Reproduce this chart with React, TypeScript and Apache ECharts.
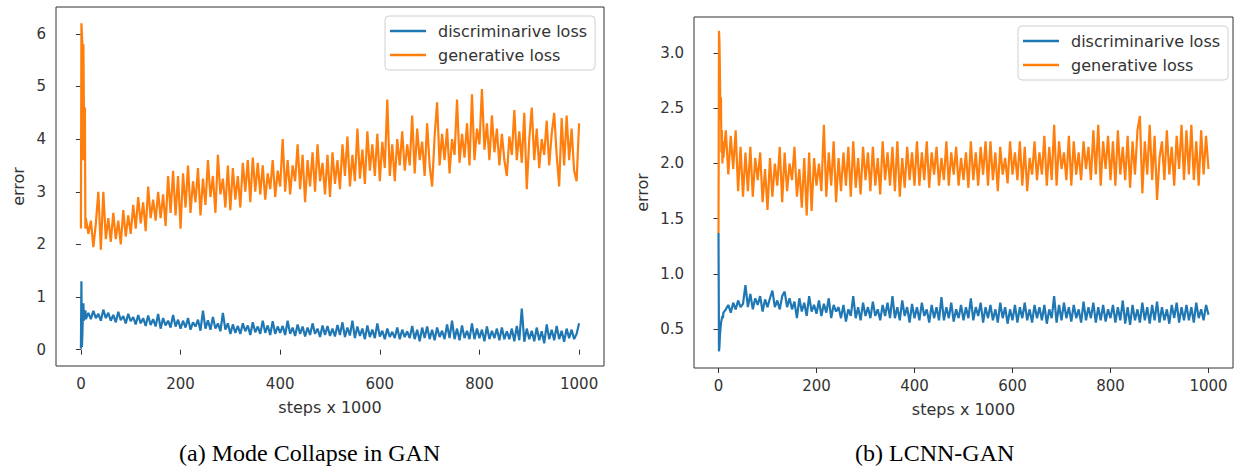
import React, { useEffect, useRef } from "react";
import * as echarts from "echarts";

// x sampling (steps x 1000): dense at the very start, then every 5
const earlySteps = [0, 1, 2, 3, 4, 5, 6, 7, 8, 9, 10];
const laterSteps = Array.from({ length: 198 }, (_, i) => 15 + 5 * i);
const steps = [...earlySteps, ...laterSteps];

const xTicks = [0, 200, 400, 600, 800, 1000];
const yTicksA = [0, 1, 2, 3, 4, 5, 6];
const yTicksB = [0.5, 1.0, 1.5, 2.0, 2.5, 3.0];

const seriesNames = ["discriminarive loss", "generative loss"];
const captions = ["(a) Mode Collapse in GAN", "(b) LCNN-GAN"];

// ---------- (a) Mode Collapse in GAN ----------
const genA = [
  2.3, 6.2, 6.0, 5.8, 3.6, 5.8, 4.6, 3.6, 4.6, 2.3, 2.5,
  2.2, 2.45, 1.95, 2.4, 3.0, 1.9, 3.0, 2.1,
  2.5, 2.05, 2.6, 2.1, 2.45, 2.0, 2.65, 2.15, 2.55, 2.2,
  2.75, 2.3, 2.9, 2.4, 2.8, 2.25, 3.1, 2.5, 2.85, 2.45,
  3.0, 2.5, 2.95, 2.35, 3.3, 2.6, 3.4, 2.55, 3.3, 2.3,
  3.35, 2.7, 3.5, 2.6, 3.2, 2.8, 3.45, 2.55, 3.25, 2.75,
  3.6, 2.9, 3.3, 2.6, 3.7, 2.95, 3.25, 2.7, 3.5, 2.65,
  3.45, 2.85, 3.3, 2.7, 3.55, 3.0, 3.6, 2.8, 3.65, 3.0,
  3.55, 2.95, 3.5, 2.85, 3.35, 3.05, 3.6, 2.9, 3.4, 3.1,
  4.0, 3.0, 3.6, 2.95, 3.5, 3.2, 3.9, 3.05, 3.7, 2.8,
  3.6, 3.1, 3.75, 3.0, 3.9, 3.2, 3.55, 2.95, 3.7, 2.9,
  3.75, 3.15, 3.6, 3.05, 3.9, 3.3, 4.05, 3.1, 3.7, 3.2,
  4.2, 3.25, 3.8, 3.15, 4.15, 3.4, 3.9, 3.3, 4.1, 3.2,
  3.95, 3.45, 4.75, 3.3, 3.9, 3.2, 4.0, 3.5, 4.15, 3.4,
  3.9, 3.5, 4.45, 3.35, 4.2, 3.6, 3.95, 3.3, 4.3, 3.5,
  3.1, 4.05, 4.7, 3.5, 4.1, 3.6, 4.2, 3.35, 4.0, 3.7,
  4.75, 3.55, 4.1, 3.65, 4.3, 3.5, 4.85, 3.6, 4.2, 3.9,
  4.95, 3.8, 4.3, 3.6, 4.45, 3.75, 4.2, 3.5, 4.1, 3.6,
  3.3, 4.05, 3.7, 4.55, 3.6, 4.15, 3.55, 4.5, 3.05, 4.0,
  4.6, 3.6, 4.2, 3.45, 4.0, 3.7, 4.35, 3.5, 4.1, 4.5,
  3.7, 3.1, 4.4, 3.5, 4.45, 3.6, 4.2, 3.4, 3.2, 4.3,
];

const discA = [
  0.02, 1.3, 0.05, 0.3, 0.7, 0.88, 0.55, 0.7, 0.6, 0.75, 0.58,
  0.7, 0.58, 0.74, 0.6, 0.68, 0.55, 0.76, 0.6,
  0.7, 0.55, 0.66, 0.52, 0.72, 0.56, 0.64, 0.5, 0.68, 0.54,
  0.62, 0.48, 0.66, 0.5, 0.6, 0.45, 0.65, 0.47, 0.58, 0.44,
  0.68, 0.4, 0.6, 0.46, 0.55, 0.42, 0.66, 0.44, 0.57, 0.4,
  0.55, 0.42, 0.6, 0.38, 0.52, 0.44, 0.57, 0.36, 0.74, 0.4,
  0.56, 0.38, 0.62, 0.4, 0.5, 0.35, 0.7, 0.38, 0.5, 0.3,
  0.48, 0.32, 0.45, 0.3, 0.5, 0.35, 0.46, 0.28, 0.52, 0.33,
  0.44, 0.3, 0.55, 0.32, 0.46, 0.28, 0.54, 0.3, 0.44, 0.32,
  0.45, 0.28, 0.55, 0.3, 0.42, 0.26, 0.48, 0.3, 0.44, 0.25,
  0.42, 0.28, 0.5, 0.3, 0.4, 0.24, 0.46, 0.28, 0.45, 0.26,
  0.4, 0.25, 0.47, 0.28, 0.52, 0.24, 0.42, 0.27, 0.55, 0.22,
  0.44, 0.26, 0.4, 0.2, 0.46, 0.24, 0.38, 0.22, 0.5, 0.25,
  0.36, 0.2, 0.4, 0.24, 0.34, 0.22, 0.42, 0.2, 0.38, 0.24,
  0.35, 0.22, 0.45, 0.2, 0.38, 0.16, 0.42, 0.22, 0.44, 0.2,
  0.38, 0.18, 0.42, 0.24, 0.36, 0.2, 0.48, 0.22, 0.55, 0.2,
  0.4, 0.18, 0.46, 0.22, 0.36, 0.2, 0.5, 0.2, 0.4, 0.22,
  0.38, 0.16, 0.44, 0.2, 0.36, 0.22, 0.4, 0.18, 0.42, 0.2,
  0.35, 0.2, 0.4, 0.16, 0.45, 0.18, 0.78, 0.15, 0.4, 0.2,
  0.36, 0.16, 0.42, 0.18, 0.35, 0.12, 0.48, 0.2, 0.38, 0.18,
  0.45, 0.2, 0.36, 0.15, 0.4, 0.22, 0.38, 0.2, 0.3, 0.5,
];

// ---------- (b) LCNN-GAN ----------
const genB = [
  1.37, 3.2, 3.1, 2.8, 2.4, 2.6, 2.1, 2.3, 2.0, 2.2, 2.05,
  2.3, 1.9, 2.25, 1.95, 2.3, 1.75, 2.15, 1.7,
  2.1, 1.75, 2.15, 1.7, 2.05, 1.85, 2.1, 1.65, 1.95, 1.58,
  2.05, 1.7, 2.0, 1.8, 2.15, 1.65, 2.1, 1.75, 2.0, 1.85,
  2.15, 1.7, 1.95, 1.6, 2.05, 1.53, 2.1, 1.57, 2.05, 1.8,
  2.0, 1.75, 2.35, 1.7, 2.1, 1.8, 2.2, 1.65, 2.05, 1.75,
  2.1, 1.8, 2.15, 1.7, 2.2, 1.78, 2.05, 1.72, 2.15, 1.85,
  2.1, 1.75, 2.15, 1.8, 2.05, 1.72, 2.2, 1.85, 2.1, 1.8,
  2.15, 1.75, 2.2, 1.7, 2.05, 1.78, 2.15, 1.85, 2.1, 1.8,
  2.2, 1.8, 2.1, 1.85, 2.2, 1.78, 2.1, 1.9, 2.15, 1.8,
  2.05, 1.85, 2.2, 1.8, 2.1, 1.9, 2.15, 1.8, 2.05, 1.85,
  2.1, 1.78, 2.2, 1.85, 2.1, 1.8, 2.15, 1.9, 2.2, 1.8,
  2.2, 1.85, 2.1, 1.75, 2.15, 1.9, 2.05, 1.82, 2.2, 1.9,
  2.1, 1.85, 2.2, 1.8, 2.15, 1.75, 2.05, 1.9, 2.2, 1.85,
  2.1, 1.9, 2.25, 1.8, 2.15, 1.85, 2.35, 1.8, 2.2, 1.95,
  2.1, 1.85, 2.25, 1.8, 2.2, 1.9, 2.1, 1.85, 2.2, 1.95,
  2.15, 1.85, 2.3, 1.9, 2.35, 1.8, 2.2, 1.95, 2.25, 1.85,
  2.2, 1.8, 2.3, 1.9, 2.15, 1.85, 2.25, 1.78, 2.2, 1.9,
  2.3, 2.43, 1.73, 2.2, 1.9, 2.35, 1.85, 2.25, 1.67, 2.05,
  2.2, 1.85, 2.3, 1.9, 2.15, 1.8, 2.25, 1.95, 2.35, 1.85,
  2.3, 1.9, 2.35, 1.85, 2.2, 1.8, 2.3, 1.9, 2.25, 1.95,
];

const discB = [
  1.37, 0.3, 0.35, 0.45, 0.5, 0.55, 0.58, 0.6, 0.62, 0.6, 0.65,
  0.68, 0.72, 0.65, 0.74, 0.68, 0.76, 0.7, 0.73,
  0.9, 0.7, 0.82, 0.68, 0.78, 0.72, 0.8, 0.66, 0.77, 0.7,
  0.78, 0.85, 0.7, 0.76, 0.68, 0.8, 0.84, 0.7, 0.78, 0.68,
  0.75, 0.6, 0.78, 0.66, 0.74, 0.62, 0.8, 0.66, 0.72, 0.64,
  0.76, 0.62, 0.73, 0.65, 0.78, 0.6, 0.72, 0.66, 0.7, 0.6,
  0.72, 0.57, 0.68, 0.62, 0.8, 0.6, 0.7, 0.58, 0.74, 0.62,
  0.7, 0.6, 0.75, 0.62, 0.68, 0.58, 0.72, 0.62, 0.74, 0.6,
  0.8, 0.6, 0.7, 0.58, 0.76, 0.62, 0.7, 0.56, 0.73, 0.6,
  0.7, 0.58, 0.74, 0.62, 0.68, 0.56, 0.72, 0.6, 0.7, 0.58,
  0.79, 0.58, 0.7, 0.6, 0.74, 0.57, 0.68, 0.6, 0.72, 0.58,
  0.7, 0.6, 0.78, 0.58, 0.7, 0.62, 0.74, 0.56, 0.7, 0.6,
  0.72, 0.58, 0.68, 0.56, 0.74, 0.6, 0.7, 0.55, 0.68, 0.58,
  0.72, 0.56, 0.7, 0.6, 0.74, 0.58, 0.68, 0.56, 0.72, 0.6,
  0.7, 0.58, 0.72, 0.55, 0.68, 0.6, 0.8, 0.56, 0.72, 0.58,
  0.74, 0.6, 0.7, 0.57, 0.72, 0.6, 0.68, 0.56, 0.75, 0.58,
  0.7, 0.6, 0.74, 0.56, 0.7, 0.58, 0.72, 0.57, 0.68, 0.6,
  0.72, 0.56, 0.7, 0.58, 0.76, 0.55, 0.7, 0.54, 0.72, 0.58,
  0.68, 0.56, 0.74, 0.58, 0.7, 0.55, 0.72, 0.58, 0.75, 0.56,
  0.7, 0.58, 0.68, 0.55, 0.72, 0.6, 0.74, 0.56, 0.7, 0.58,
  0.72, 0.58, 0.7, 0.56, 0.74, 0.6, 0.68, 0.58, 0.72, 0.63,
];

const BLUE = "#1f77b4";
const ORANGE = "#ff7f0e";
const SANS = "DejaVu Sans";
const INK = "#333";

const pairs = (vals: number[]) => steps.map((s, i) => [s, vals[i]]);

export default function App() {
  const ref = useRef<HTMLDivElement>(null);

  useEffect(() => {
    if (!ref.current) return;
    const chart = echarts.init(ref.current, null, { renderer: "svg" });

    const xAxisBase = (gridIndex: number) => ({
      type: "value" as const,
      gridIndex,
      min: -50,
      max: 1050,
      name: "steps x 1000",
      nameLocation: "middle" as const,
      nameGap: 33,
      nameTextStyle: { fontFamily: SANS, fontSize: 16, color: INK },
      axisLine: { show: false },
      splitLine: { show: false },
      axisTick: {
        show: true,
        length: 5,
        customValues: xTicks,
        lineStyle: { color: INK, width: 1 },
      },
      axisLabel: {
        customValues: xTicks,
        margin: 10,
        fontFamily: SANS,
        fontSize: 15,
        color: INK,
        formatter: (v: number) => String(v),
      },
    });

    const yAxisBase = (
      gridIndex: number,
      min: number,
      max: number,
      ticks: number[],
      nameGap: number,
      decimals: number
    ) => ({
      type: "value" as const,
      gridIndex,
      min,
      max,
      name: "error",
      nameLocation: "middle" as const,
      nameRotate: 90,
      nameGap,
      nameTextStyle: { fontFamily: SANS, fontSize: 16, color: INK },
      axisLine: { show: false },
      splitLine: { show: false },
      axisTick: {
        show: true,
        length: 5,
        customValues: ticks,
        lineStyle: { color: INK, width: 1 },
      },
      axisLabel: {
        customValues: ticks,
        margin: 10,
        fontFamily: SANS,
        fontSize: 15,
        color: INK,
        formatter: (v: number) => v.toFixed(decimals),
      },
    });

    const legendBase = (left: number, top: number) => ({
      orient: "vertical" as const,
      left,
      top,
      data: seriesNames,
      icon: "rect",
      itemWidth: 36,
      itemHeight: 2.5,
      itemGap: 6,
      padding: [6, 8, 6, 5],
      backgroundColor: "rgba(255,255,255,0.8)",
      borderColor: "#d0d0d0",
      borderWidth: 1,
      borderRadius: 4,
      selectedMode: false,
      textStyle: {
        fontFamily: SANS,
        fontSize: 16,
        color: INK,
        lineHeight: 18,
        padding: [0, 0, 0, 7],
      },
    });

    const lineSeries = (
      name: string,
      color: string,
      vals: number[],
      idx: number
    ) => ({
      type: "line" as const,
      name,
      xAxisIndex: idx,
      yAxisIndex: idx,
      data: pairs(vals),
      showSymbol: false,
      symbol: "none",
      color,
      lineStyle: { color, width: 2.2 },
      emphasis: { disabled: true },
    });

    chart.setOption({
      animation: false,
      backgroundColor: "#fff",
      grid: [
        {
          left: 56,
          top: 7,
          width: 548,
          height: 359,
          show: true,
          borderColor: INK,
          borderWidth: 1,
          backgroundColor: "transparent",
        },
        {
          left: 694,
          top: 17,
          width: 539,
          height: 351,
          show: true,
          borderColor: INK,
          borderWidth: 1,
          backgroundColor: "transparent",
        },
      ],
      xAxis: [xAxisBase(0), xAxisBase(1)],
      yAxis: [
        yAxisBase(0, -0.31, 6.51, yTicksA, 30, 0),
        yAxisBase(1, 0.149, 3.326, yTicksB, 44, 1),
      ],
      legend: [legendBase(385, 16), legendBase(1018, 26)],
      series: [
        lineSeries(seriesNames[0], BLUE, discA, 0),
        lineSeries(seriesNames[1], ORANGE, genA, 0),
        lineSeries(seriesNames[0], BLUE, discB, 1),
        lineSeries(seriesNames[1], ORANGE, genB, 1),
      ],
      graphic: [
        {
          type: "text",
          left: 179,
          top: 441,
          style: {
            text: captions[0],
            font: '24px "Liberation Serif", "Times New Roman", serif',
            fill: "#000",
          },
        },
        {
          type: "text",
          left: 855,
          top: 441,
          style: {
            text: captions[1],
            font: '24px "Liberation Serif", "Times New Roman", serif',
            fill: "#000",
          },
        },
      ],
    });

    return () => chart.dispose();
  }, []);

  return (
    <div
      ref={ref}
      style={{
        position: "fixed",
        left: 0,
        top: 0,
        width: 1235,
        height: 467,
        background: "#fff",
      }}
    />
  );
}
